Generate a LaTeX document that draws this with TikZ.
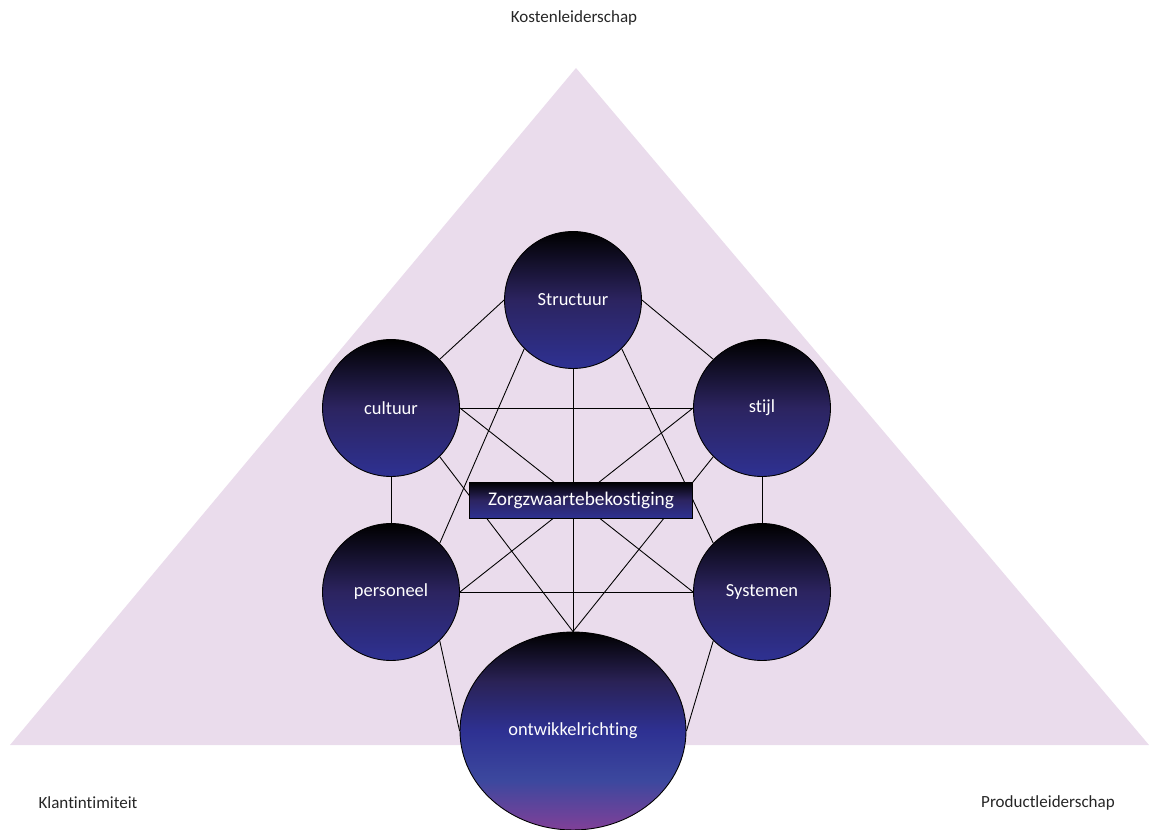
\documentclass[tikz,border=0pt]{standalone}
\usepackage{fontspec}
\setmainfont{Carlito}[Ligatures=NoCommon]
\usetikzlibrary{shapes.geometric}
\definecolor{trifill}{RGB}{234,220,236}
\definecolor{ballblue}{RGB}{46,49,146}
\definecolor{ballmid}{RGB}{44,36,96}
\definecolor{balllight}{RGB}{60,72,158}
\definecolor{balldark}{RGB}{42,34,86}
\definecolor{ballpurple}{RGB}{128,64,152}
\definecolor{lblgrey}{RGB}{38,38,38}
\pgfdeclareverticalshading{bigshade}{100bp}{color(0bp)=(ballpurple); color(25bp)=(ballpurple); color(37.5bp)=(balllight); color(50bp)=(ballblue); color(62.5bp)=(balldark); color(75bp)=(black); color(100bp)=(black)}

\begin{document}
\begin{tikzpicture}[x=0.02cm,y=-0.02cm,
  ball/.style={circle,draw,line width=0.5pt,minimum size=2.74cm,inner sep=0pt,
    text=white,font=\fontsize{10.5}{12}\selectfont,
    top color=black,bottom color=ballblue,middle color=ballmid},
  bigball/.style={ellipse,draw,line width=0.5pt,minimum width=4.52cm,minimum height=3.96cm,
    inner sep=0pt,text=white,font=\fontsize{10.5}{12}\selectfont,shading=bigshade},
  box/.style={rectangle,draw,line width=0.5pt,minimum width=4.46cm,minimum height=0.72cm,
    inner sep=0pt,text=white,font=\fontsize{11}{13}\selectfont,
    top color=black,bottom color=ballblue,middle color=ballmid},
  lbl/.style={text=lblgrey,font=\fontsize{9.7}{11}\selectfont},
  link/.style={line width=0.5pt}]
\useasboundingbox (0,0) rectangle (1149,830);
\fill[trifill] (576,68) -- (1149,745) -- (10,745) -- cycle;

\node[lbl] (kosten) at (574,18) {Kostenleiderschap};
\node[lbl] (klant) at (88,803) {Klantintimiteit};
\node[lbl] (product) at (1048,803) {Productleiderschap};

\node[ball] (str) at (573,300) {Structuur};
\node[ball] (cul) at (391,408) {cultuur};
\node[ball] (sti) at (762,408) {stijl};
\node[ball] (per) at (391,592) {personeel};
\node[ball] (sys) at (762,592) {Systemen};
\node[bigball] (ont) at (573,731) {\raisebox{-2.5pt}{ontwikkelrichting}};

% every ball linked with every other ball
\foreach \a/\b in {str.west/cul.north east, str.east/sti.north west,
    str.south west/per.north east, str.south east/sys.north west, str.south/ont.north,
    cul.east/sti.west, cul.south/per.north, cul.east/sys.west, cul.south east/ont.north,
    sti.west/per.east, sti.south/sys.north, sti.south west/ont.north,
    per.east/sys.west, per.south east/ont.west, sys.south west/ont.east}
  \draw[link] (\a) -- (\b);

\node[box] (zorg) at (581,500) {Zorgzwaartebekostiging};
\end{tikzpicture}
\end{document}
